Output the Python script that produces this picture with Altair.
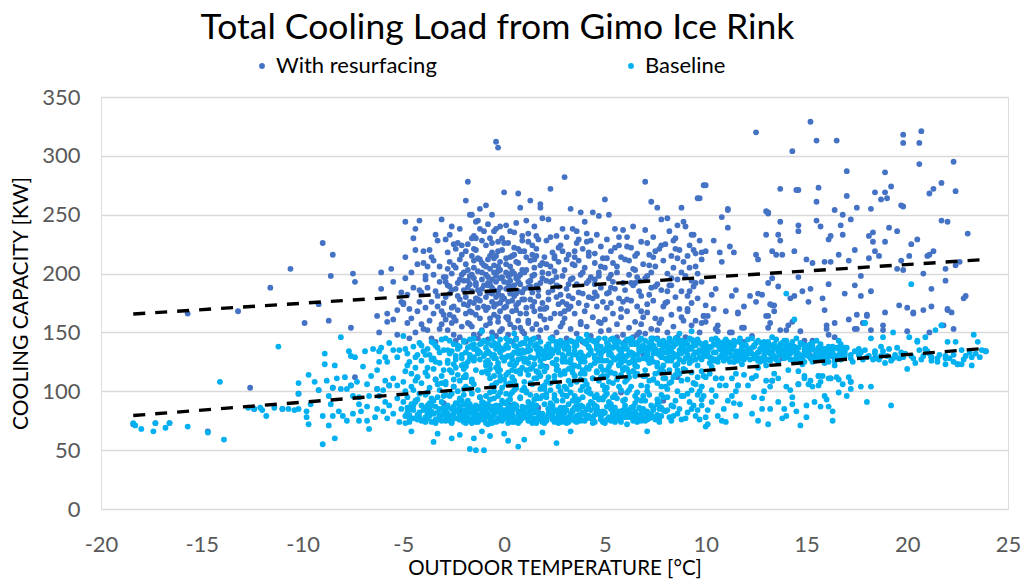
import altair as alt
import pandas as pd

series_names = ["With resurfacing", "Baseline"]
series_colors = ["#4472C4", "#00B0F0"]
x_ticks = [-20, -15, -10, -5, 0, 5, 10, 15, 20, 25]
y_ticks = [0, 50, 100, 150, 200, 250, 300, 350]

# hourly readings, "outdoor temperature:cooling load" per token
resurfacing_cold = """
-15.7:166 -13.2:168 -12.6:103 -11.6:188 -10.6:204 -9.9:158 -9.2:174 -9.0:226 -8.7:160 -8.6:198
-8.5:216 -7.6:154 -7.5:200 -7.4:193 -7.4:112 -6.3:164 -6.1:201 -6.1:187 -5.8:166 -5.8:159
-5.6:204 -5.5:193 -5.5:161 -5.3:169 -5.3:148 -5.0:175 -4.8:158 -6.2:150 -5.1:184
"""
resurfacing_low = """
-18.4:72 -17.3:73 -16.6:73 -14.7:66 -12.4:85 -11.0:85 -10.2:98 -9.2:101 -8.5:103 -7.6:105
-6.3:102 -5.7:105 -4.3:112 -3.4:110 -2.5:104 -1.6:108 -0.4:107 0.6:103 1.6:111 2.6:122
3.5:113 4.4:111 5.3:116 6.4:117 7.4:110 8.6:112 9.4:107 10.5:111 11.6:105 12.3:111
13.3:109 14.6:106 15.6:113 16.2:111 17.2:108 18.4:128 19.6:128 21.2:129 22.5:123 23.9:134
2.1:121 -1.2:95 0.3:88 3.1:96 5.8:99 7.9:92 -3.0:90 4.7:127 6.9:131 1.1:134
15.2:130 16.4:128 17.6:131 14.1:129 12.6:133 13.8:128 11.4:125
-2.2:84 -0.9:80 0.4:79 1.7:86 3.2:77 4.6:83
"""
resurfacing_mild = """
-4.9:244 -4.2:245 -4.4:238 -4.9:214 -4.4:220 -4.3:208 -4.5:188 -4.2:186 -4.1:184 -5.1:176
-5.0:174 -4.7:170 -4.3:168 -4.6:162 -4.9:196 -4.6:201 -4.8:182 -4.4:150 -4.7:145 -4.2:176
-4.5:230 -4.1:157
-4.0:219 -3.7:220 -3.5:211 -3.8:206 -4.0:209 -3.6:176 -4.0:153 -3.2:153 -3.0:165 -3.5:166
-3.1:157 -3.2:193 -3.1:246 -3.4:185 -3.9:195 -3.3:172 -3.7:160 -3.6:145 -3.8:188 -3.3:228
-3.5:199 -3.9:171 -3.2:206 -3.4:142 -3.0:197 -3.0:175
-3.8:152 -3.3:181 -3.6:214 -3.1:168 -3.9:198 -3.4:233
-2.9:229 -2.8:218 -2.9:197 -2.2:238 -2.6:240 -2.5:225 -2.7:210 -2.4:205 -2.2:212 -2.8:190
-2.6:186 -2.3:192 -2.1:199 -2.9:180 -2.5:172 -2.7:165 -2.4:160 -2.2:178 -2.8:152 -2.5:148
-2.1:155 -2.6:200 -2.3:169 -2.0:186 -2.4:143 -2.7:233 -2.1:224 -2.3:181 -2.6:158
-2.8:204 -2.4:187 -2.1:216 -2.6:171 -2.9:193 -2.3:226 -2.7:183 -2.0:201 -2.5:163 -2.2:195
-2.9:161 -2.5:207 -2.2:146 -2.7:189 -2.4:221 -2.0:174
-1.8:278 -1.7:250 -1.6:250 -1.3:245 -1.4:244 -1.2:238 -1.9:262 -1.5:232 -1.1:228 -1.8:225
-1.4:220 -1.6:215 -1.2:212 -1.9:208 -1.5:205 -1.3:202 -1.7:198 -1.1:195 -1.4:192 -1.8:188
-1.6:185 -1.2:183 -1.9:180 -1.3:178 -1.5:175 -1.0:172 -1.7:168 -1.4:165 -1.2:162 -1.8:158
-1.6:155 -1.1:152 -1.5:148 -1.3:145 -1.9:142 -1.0:207 -1.6:230 -1.2:255 -1.4:190 -1.7:176
-1.1:187 -1.5:196 -1.3:171 -1.8:203
-1.9:219 -1.6:199 -1.3:186 -1.8:173 -1.5:221 -1.1:209 -1.7:191 -1.4:230 -1.2:177 -2.0:194
-1.6:167 -1.3:213
-1.9:166 -1.5:211 -1.2:149 -1.8:194 -1.4:179 -1.0:236 -1.7:157 -1.1:201
-0.4:312 -0.3:307 -0.9:258 -0.6:250 -0.8:242 -0.2:240 -0.5:236 -0.7:230 -0.3:227 -0.9:224
-0.1:220 -0.6:218 -0.4:215 -0.8:212 -0.2:210 -0.5:207 -0.7:204 -0.3:202 -0.9:199 -0.1:197
-0.6:195 -0.4:193 -0.8:190 -0.2:188 -0.5:186 -0.7:184 -0.3:182 -0.9:180 -0.1:178 -0.6:176
-0.4:174 -0.8:171 -0.2:168 -0.5:165 -0.7:162 -0.3:159 -0.9:156 -0.1:153 -0.6:150 -0.4:147
-0.8:144 -0.2:196 -0.5:201 -0.7:191 -0.3:185 -0.4:198 -0.6:188 -0.2:175
-0.9:206 -0.6:183 -0.3:219 -0.8:197 -0.5:172 -0.1:230 -0.7:215 -0.4:180 -0.2:203 -1.0:190
-0.6:226 -0.3:163 -0.8:184
-0.9:169 -0.5:213 -0.2:151 -0.8:192 -0.4:238 -0.1:181 -0.7:158 -0.3:206
0.0:269 0.7:268 0.8:256 0.1:241 0.6:243 0.3:236 0.9:232 0.2:226 0.5:222 0.8:219
0.4:215 0.1:213 0.7:209 0.3:206 0.9:203 0.5:200 0.2:198 0.6:196 0.0:193 0.8:191
0.4:189 0.1:187 0.7:185 0.3:183 0.5:181 0.9:178 0.2:176 0.6:173 0.0:171 0.4:168
0.8:166 0.1:163 0.7:160 0.3:157 0.5:154 0.9:151 0.2:148 0.6:145 0.4:142 0.3:194
0.5:190 0.1:201 0.7:197 0.2:188 0.4:186 0.0:179 0.6:210
0.1:208 0.4:177 0.7:221 0.2:192 0.5:235 0.9:184 0.3:214 0.6:169 0.8:199 0.0:226
0.4:202 0.7:175 0.2:161
0.1:172 0.5:216 0.8:154 0.3:199 0.6:183 0.9:228 0.2:163 0.7:193
1.3:262 1.8:259 1.8:256 1.1:245 1.9:247 1.5:240 1.2:234 1.7:229 1.4:224 1.0:219
1.6:215 1.3:211 1.8:207 1.1:203 1.5:199 1.9:196 1.2:193 1.6:190 1.0:187 1.4:184
1.7:181 1.3:178 1.9:175 1.1:171 1.5:168 1.8:164 1.2:160 1.6:157 1.4:153 1.0:149
1.7:146 1.3:143 1.5:205 1.2:188 1.8:192 1.4:172
1.1:214 1.4:198 1.7:186 1.2:227 1.5:176 1.9:209 1.3:194 1.6:232 1.8:170 1.0:201 1.4:216
1.1:166 1.5:212 1.8:152 1.3:189 1.6:221 1.0:178 1.9:201 1.2:158
2.3:272 2.2:246 2.9:238 2.6:232 2.1:228 2.8:224 2.4:218 2.0:214 2.7:210 2.3:206
2.5:202 2.9:198 2.1:194 2.6:190 2.4:186 2.8:182 2.2:178 2.7:174 2.0:170 2.5:166
2.3:162 2.9:158 2.1:154 2.6:150 2.4:146 2.8:142 2.2:200 2.7:189
2.1:208 2.4:194 2.7:222 2.2:184 2.5:215 2.9:176 2.3:231 2.6:197 2.8:166
2.1:171 2.5:213 2.8:155 2.3:193 2.6:180 2.9:219 2.0:161
3.0:282 3.3:255 3.8:252 3.4:238 3.1:231 3.6:226 3.9:221 3.2:216 3.7:211 3.5:207
3.0:203 3.8:199 3.3:195 3.6:191 3.1:187 3.9:183 3.4:179 3.7:175 3.2:170 3.5:166
3.0:162 3.8:157 3.3:153 3.6:149 3.1:145 3.9:142 3.4:208 3.7:184
3.1:212 3.4:196 3.7:229 3.2:181 3.5:219 3.9:201 3.3:172
3.1:174 3.5:214 3.8:159 3.2:191 3.6:236 3.0:168
4.4:252 4.7:249 4.0:244 4.1:234 4.6:233 4.3:228 4.8:223 4.2:218 4.9:213 4.5:209
4.0:205 4.7:201 4.3:197 4.1:192 4.8:188 4.5:184 4.2:180 4.9:176 4.6:172 4.0:168
4.4:163 4.7:159 4.1:155 4.8:151 4.3:147 4.6:143 4.5:195
4.2:215 4.5:191 4.8:206 4.1:227 4.4:179 4.7:198
4.1:173 4.5:217 4.8:158 4.2:194 4.6:181
5.0:263 5.2:250 5.5:238 5.9:237 5.1:229 5.7:224 5.3:219 5.8:214 5.4:209 5.0:205
5.6:201 5.2:196 5.9:192 5.5:187 5.1:183 5.7:179 5.3:175 5.8:170 5.4:166 5.0:161
5.6:157 5.2:152 5.9:148 5.5:144 5.3:199
5.1:213 5.4:193 5.7:231 5.2:184 5.6:206 5.9:176
5.1:171 5.5:222 5.8:163 5.3:188 5.6:146
6.4:240 6.1:231 6.8:227 6.3:222 6.6:217 6.0:212 6.9:208 6.5:203 6.2:199 6.7:194
6.4:190 6.0:186 6.8:181 6.3:177 6.6:172 6.1:168 6.9:163 6.5:159 6.2:154 6.7:150
6.4:146 6.0:142 6.6:197
6.1:223 6.4:204 6.7:185 6.2:211 6.5:192 6.8:168
6.1:178 6.5:215 6.8:157 6.3:192 6.6:148
7.0:278 7.3:261 7.6:256 7.0:237 7.8:246 7.4:231 7.1:226 7.7:221 7.2:216 7.9:211
7.5:206 7.3:201 7.0:196 7.6:191 7.8:186 7.2:182 7.4:177 7.9:172 7.1:167 7.5:162
7.7:158 7.3:153 7.0:149 7.6:145
7.2:207 7.5:189 7.8:224 7.1:198 7.4:214
7.1:174 7.5:219 7.8:161 7.3:188 7.6:152
8.1:247 8.6:241 8.9:244 8.8:256 8.2:236 8.5:230 8.0:225 8.7:220 8.3:215 8.9:210
8.4:205 8.1:200 8.6:195 8.2:190 8.8:185 8.5:180 8.0:175 8.7:170 8.3:165 8.9:160
8.4:155 8.1:150 8.6:146 8.2:142
8.3:196 8.6:213 8.1:185 8.8:201 8.4:228
8.1:176 8.5:221 8.8:163 8.3:190
9.6:264 9.3:233 9.7:264 9.4:233 9.7:228 9.4:220 9.8:212 9.0:240 9.2:224 9.5:206
9.1:215 9.4:189 9.3:175 9.6:179 9.5:160 9.0:198 9.2:185 9.8:193 9.1:168 9.7:150
9.3:156 9.9:164 9.0:146 9.6:200 9.9:275
9.2:205 9.5:192 9.8:218 9.1:170
9.1:181 9.5:217 9.8:158 9.3:194
"""
resurfacing_warm = """
10.0:275 12.5:320 15.2:329 15.5:313 16.5:313 14.3:304 19.8:318 20.7:321 19.8:311 20.6:311
20.6:293 22.3:295 17.0:287 18.9:286 13.7:272 14.6:271 15.6:273 15.5:261 17.0:266 18.4:269
18.9:269 19.2:274 18.7:263 19.0:264 18.2:255 19.8:257 21.1:268 21.3:272 21.7:277 22.4:270
10.8:248 11.1:255 11.1:239 13.0:253 13.1:251 13.7:244 15.5:245 15.7:240 16.4:254 16.8:250
17.2:246 17.5:256 16.7:241 16.8:233 18.3:235 18.1:232 19.1:239 19.5:236 19.7:258 21.7:245
22.0:244 23.0:234 13.0:233 13.6:233 13.7:228 14.6:236 14.6:241 16.1:229 16.2:232 18.3:227
18.9:227 20.2:225 20.5:229 10.4:228 10.0:219 10.7:218 10.8:210 11.2:223 11.4:218 12.5:216
12.6:212 13.3:219 13.5:216 13.8:216 14.4:219 15.0:212 15.3:209 15.9:210 16.2:210 16.6:216
17.1:211 17.4:220 18.1:213 18.4:219 18.6:215 19.7:211 20.1:215 21.0:215 21.1:216 21.3:219
22.6:210 22.4:207 21.9:204 21.9:194 22.9:181 21.2:187 20.8:200 19.8:203 19.5:204 19.6:173
20.0:171 20.3:167 20.8:169 21.2:172 22.0:169 22.2:167 18.9:167 18.2:185 18.0:164 17.5:165
17.7:181 17.4:190 17.7:198 16.9:183 15.9:169 15.8:179 16.1:191 15.1:176 15.2:187 14.8:185
14.6:197 14.4:181 14.2:179 13.6:189 13.3:173 13.4:168 13.1:164 12.5:176 12.6:183 12.8:182
13.1:192 13.3:196 12.2:181 11.9:172 11.5:186 11.3:181 11.6:167 11.0:168 10.5:187 10.3:182
10.0:173 9.9:164 10.4:170 10.1:164 10.6:156 11.2:150 11.9:154 13.1:154 14.1:156 14.7:151
16.0:156 16.4:158 17.1:161 17.5:153 18.8:156 20.0:151 21.1:150 22.3:153 21.8:156 20.3:166
22.0:170 18.8:152 18.2:152 17.8:158 18.0:165 17.4:153 16.0:153 16.1:148 16.4:146 15.3:143
14.9:143 14.3:159 14.0:152 13.7:152 13.2:158 13.2:174 13.4:173 13.0:164 11.8:154 12.3:147
11.9:142 11.3:150 11.6:166 10.0:159 10.5:153 10.6:151 22.8:179 11.1:254 13.1:252 14.5:271
"""

baseline_cold = """
-18.4:73 -18.3:71 -18.0:68 -17.4:66 -17.3:73 -16.8:69 -16.6:73 -15.7:70 -14.7:65 -13.9:59
-14.1:108 -11.2:138 -12.7:86 -12.4:85 -12.1:86 -12.0:84 -11.8:79 -11.4:86 -11.0:85 -10.7:85
-10.4:84 -10.2:85 -10.2:107 -10.2:98 -9.7:114 -9.8:78 -9.7:72 -9.6:89 -9.8:83 -9.0:55
-8.4:60 -9.4:108 -9.2:101 -8.9:132 -8.9:123 -8.4:122 -8.8:109 -8.5:103 -8.1:146 -8.3:111
-7.9:112 -7.7:134 -7.6:130 -7.4:129 -8.7:96 -8.6:89 -9.0:79 -8.7:71 -8.5:79 -8.2:83
-8.0:79 -8.1:102 -7.8:102 -7.6:105 -7.5:96 -7.2:95 -7.0:121 -6.9:134 -6.8:106 -6.7:68
-6.8:75 -6.5:136 -6.2:134 -6.1:137 -5.9:129 -5.8:125 -6.2:125 -6.3:118 -5.9:109 -5.7:141
-5.5:135 -5.3:129 -5.2:135 -5.3:105 -5.5:111 -5.7:105 -6.0:101 -6.3:102 -6.2:96 -5.9:91
-5.7:88 -5.3:94 -5.1:85 -5.5:81 -5.8:77 -6.0:83 -6.3:85 -6.8:87 -7.1:83 -7.2:89
-6.7:96 -6.6:113 -7.3:108 -7.5:81 -7.8:75 -7.2:75 -6.4:78 -5.2:74
"""
baseline_mild = """
-4.9:117 -5.0:108 -4.9:79 -5.0:91 -5.0:147 -4.6:66 -4.8:132 -4.7:125 -4.5:138 -4.4:120
-4.3:112 -4.6:104 -4.2:98 -4.8:95 -4.1:88 -4.5:84 -4.7:80 -4.3:76 -4.9:100 -4.4:129
-4.2:141 -4.6:115 -4.1:107 -4.8:86 -4.3:93 -4.0:134 -4.5:101 -4.7:74 -4.2:82 -4.4:109
-4.1:126 -4.9:136 -4.6:89 -4.3:131 -4.8:122 -4.5:77 -4.1:139 -4.4:92
-3.8:136 -3.5:57 -3.3:64 -3.9:78 -3.7:84 -3.5:92 -3.2:101 -3.0:118 -3.6:127 -3.4:139
-3.1:144 -3.8:113 -3.3:106 -3.9:97 -3.6:88 -3.1:80 -3.4:76 -3.7:131 -3.2:124 -3.0:135
-3.5:141 -3.8:120 -3.3:95 -3.9:86 -3.6:74 -3.1:91 -3.4:110 -3.7:103 -3.2:77 -3.0:83
-3.5:128 -3.8:99 -3.3:137 -3.9:116 -3.6:142 -3.1:107 -3.4:87 -3.7:79 -3.2:133 -3.0:96
-3.5:119 -3.8:81 -3.4:125 -3.1:113 -3.6:94 -3.9:131 -3.3:82
-2.6:60 -2.2:63 -2.9:75 -2.7:78 -2.5:81 -2.3:84 -2.1:77 -2.8:86 -2.4:90 -2.2:94
-2.6:98 -2.0:102 -2.9:106 -2.5:110 -2.3:114 -2.7:118 -2.1:122 -2.8:126 -2.4:130 -2.6:134
-2.2:138 -2.0:142 -2.9:145 -2.5:140 -2.3:136 -2.7:132 -2.1:128 -2.8:124 -2.4:120 -2.6:116
-2.0:112 -2.9:108 -2.5:104 -2.3:100 -2.7:96 -2.1:92 -2.8:88 -2.4:83 -2.6:79 -2.2:76
-2.0:74 -2.9:82 -2.5:87 -2.3:139 -2.7:143 -2.1:131 -2.4:127 -2.8:135 -2.2:80 -2.6:85
-2.0:89 -2.5:123 -2.2:109 -2.9:97
-1.7:51 -1.4:50 -1.5:60 -1.1:66 -1.0:50 -1.1:151
-1.7:131 -1.3:78 -1.9:104 -1.1:142 -1.6:86 -2.0:119 -1.4:74 -1.8:137 -1.2:95 -1.5:126
-1.4:81 -1.9:112 -1.2:140 -1.7:89 -2.0:123 -1.1:76 -1.6:108 -1.3:134 -1.8:92 -1.5:145
-1.8:83 -1.1:116 -1.5:129 -2.0:79 -1.3:101 -1.7:138 -1.2:87 -1.9:121 -1.4:75 -1.6:110
-1.2:133 -1.6:98 -2.0:143 -1.4:84 -1.8:125 -1.3:77 -1.9:114 -1.5:136 -1.1:91 -1.7:128
-1.9:80 -1.5:106 -1.1:141 -1.8:88 -1.4:118 -1.6:73 -1.3:132 -2.0:97 -1.6:139 -1.2:85
-1.9:122 -1.0:82 -1.3:135 -1.7:102 -1.5:127
-0.7:62 -0.8:72
-0.4:128 -0.9:83 -0.2:109 -0.6:139 -1.0:76 -0.3:121 -0.7:93 -0.1:135 -0.5:80 -0.8:115
-0.2:144 -0.6:87 -0.9:125 -0.4:74 -0.1:103 -0.7:132 -0.3:96 -0.5:141 -0.8:79 -0.2:118
-0.6:130 -1.0:90 -0.4:107 -0.9:137 -0.1:84 -0.7:123 -0.3:77 -0.5:113 -0.8:134 -0.2:99
-0.6:146 -0.9:82 -0.4:120 -0.1:75 -0.7:111 -0.3:138 -0.5:94 -0.8:126 -0.2:81 -0.6:105
-1.0:143 -0.4:88 -0.9:117 -0.1:129 -0.7:78 -0.3:140 -0.5:100 -0.8:86 -0.2:133 -0.6:73
-0.9:122 -0.4:136 -0.1:92 -0.7:119 -0.3:85 -0.5:131
0.2:58 0.7:53 0.5:149 0.0:64
0.6:124 0.1:79 0.8:140 0.3:97 0.9:84 0.4:131 0.0:110 0.7:76 0.2:137 0.5:89
0.8:118 0.3:143 0.0:81 0.6:103 0.9:128 0.4:74 0.1:114 0.7:135 0.2:92 0.5:122
0.8:78 0.3:107 0.9:141 0.6:86 0.0:126 0.4:99 0.1:145 0.7:83 0.2:116 0.5:133
0.8:95 0.3:75 0.9:120 0.6:138 0.0:90 0.4:112 0.1:129 0.7:80 0.2:142 0.5:101
0.8:132 0.3:87 0.9:77 0.6:117 0.0:136 0.4:85 0.1:106 0.7:127 0.2:73 0.5:139
0.8:94 0.3:123
1.0:59 1.9:65
1.5:77 1.2:134 1.8:102 1.0:141 1.6:88 1.3:119 1.9:75 1.1:127 1.7:94 1.4:144
1.0:83 1.6:111 1.2:138 1.8:79 1.5:123 1.3:97 1.9:131 1.1:86 1.7:116 1.4:74
1.0:108 1.6:140 1.2:91 1.8:126 1.5:82 1.3:135 1.9:104 1.1:145 1.7:78 1.4:120
1.0:133 1.6:96 1.2:76 1.8:113 1.5:139 1.3:84 1.9:122 1.1:100 1.7:137 1.4:89
1.0:125 1.6:73 1.2:114 1.8:142 1.5:93 1.3:129 1.9:81 1.1:118 1.7:130 1.4:106
1.0:80 1.6:136 1.2:87 1.8:121 1.5:128
2.6:56
2.3:136 2.8:81 2.0:117 2.6:142 2.4:76 2.9:125 2.1:98 2.7:133 2.2:85 2.5:109
2.8:139 2.3:79 2.0:128 2.6:92 2.4:144 2.9:74 2.1:120 2.7:104 2.2:137 2.5:83
2.8:115 2.3:130 2.0:89 2.6:77 2.4:124 2.9:141 2.1:95 2.7:82 2.2:112 2.5:135
2.8:100 2.3:145 2.0:78 2.6:127 2.4:88 2.9:131 2.1:75 2.7:118 2.2:140 2.5:94
2.8:86 2.3:107 2.0:134 2.6:122 2.4:80 2.9:97 2.1:138 2.7:73 2.2:129 2.5:113
2.8:143 2.3:90 2.0:102 2.6:84 2.4:132
3.3:66
3.6:131 3.1:84 3.8:110 3.3:143 3.0:77 3.5:122 3.9:95 3.2:137 3.7:80 3.4:116
3.1:140 3.8:88 3.3:127 3.6:74 3.0:104 3.5:134 3.9:82 3.2:119 3.7:145 3.4:92
3.1:125 3.8:76 3.3:99 3.6:139 3.0:86 3.5:113 3.9:130 3.2:78 3.7:121 3.4:142
3.1:96 3.8:133 3.3:81 3.6:108 3.0:136 3.5:75 3.9:118 3.2:89 3.7:128 3.4:83
3.1:141 3.8:101 3.3:124 3.6:79 3.0:115 3.5:138 3.9:87 3.2:132 3.7:93 3.4:120
3.1:73 3.8:144 3.3:106 3.6:85 3.0:129
4.1:148
4.2:79 4.7:126 4.0:141 4.5:88 4.9:113 4.3:135 4.8:76 4.1:120 4.6:97 4.4:143
4.0:82 4.7:109 4.2:131 4.9:74 4.5:124 4.3:91 4.8:138 4.1:85 4.6:117 4.4:78
4.0:129 4.7:145 4.2:102 4.9:134 4.5:80 4.3:122 4.8:94 4.1:140 4.6:87 4.4:111
4.0:75 4.7:133 4.2:119 4.9:83 4.5:142 4.3:98 4.8:127 4.1:77 4.6:136 4.4:90
4.0:115 4.7:81 4.2:144 4.9:105 4.5:130 4.3:84 4.8:121 4.1:100 4.6:139 4.4:73
4.0:125 4.7:93 4.2:137 4.9:118 4.5:86
5.4:137 5.9:84 5.1:118 5.7:142 5.2:78 5.5:127 5.0:96 5.8:133 5.3:75 5.6:110
5.9:140 5.1:87 5.7:123 5.4:80 5.0:145 5.8:101 5.2:131 5.5:77 5.3:116 5.6:138
5.9:92 5.1:126 5.7:83 5.4:107 5.0:135 5.8:74 5.2:121 5.5:143 5.3:89 5.6:128
5.9:79 5.1:113 5.7:136 5.4:95 5.0:82 5.8:124 5.2:139 5.5:86 5.3:132 5.6:76
5.9:119 5.1:141 5.7:104 5.4:129 5.0:73 5.8:134 5.2:91 5.5:115 5.3:144 5.6:81
5.9:130 5.1:98 5.7:122 5.4:85 5.0:112
6.1:72
6.3:125 6.8:80 6.0:139 6.6:93 6.1:130 6.9:76 6.4:117 6.2:143 6.7:86 6.5:122
6.0:78 6.8:134 6.3:104 6.6:141 6.1:83 6.9:128 6.4:75 6.2:112 6.7:137 6.5:90
6.0:120 6.8:145 6.3:81 6.6:131 6.1:99 6.9:136 6.4:87 6.2:124 6.7:77 6.5:140
6.0:108 6.8:84 6.3:133 6.6:74 6.1:119 6.9:96 6.4:142 6.2:82 6.7:127 6.5:113
6.0:88 6.8:138 6.3:79 6.6:121 6.1:144 6.9:85 6.4:132 6.2:101 6.7:135 6.5:76
6.0:126 6.8:92 6.3:140 6.6:115 6.1:80
7.1:66
7.5:134 7.0:82 7.8:119 7.2:141 7.6:77 7.3:128 7.9:95 7.1:137 7.7:85 7.4:110
7.0:143 7.8:79 7.2:124 7.6:132 7.3:88 7.9:139 7.1:76 7.7:116 7.4:145 7.0:92
7.8:130 7.2:81 7.6:121 7.3:136 7.9:84 7.1:127 7.7:140 7.4:78 7.0:113 7.8:135
7.2:97 7.6:89 7.3:142 7.9:122 7.1:83 7.7:131 7.4:125 7.0:75 7.8:104 7.2:138
7.6:144 7.3:80 7.9:117 7.1:133 7.7:91 7.4:86 7.0:129 7.8:142 7.2:77 7.6:107
7.3:126 7.9:138 7.1:100 7.7:74 7.4:132
8.7:149
8.4:138 8.9:125 8.1:141 8.6:131 8.2:118 8.8:143 8.3:134 8.7:127 8.0:139 8.5:122
8.9:136 8.1:84 8.6:144 8.4:129 8.2:78 8.8:132 8.0:104 8.5:140 8.3:88 8.7:135
8.9:96 8.1:126 8.6:81 8.4:112 8.2:137 8.8:76 8.0:128 8.5:92 8.3:142 8.7:85
8.9:119 8.1:133 8.6:100 8.4:79 8.2:145 8.8:109 8.0:83 8.5:130 8.3:75 8.7:115
8.9:140 8.1:95 8.6:123 8.4:87 8.2:107
9.3:151
9.2:137 9.7:129 9.0:142 9.5:133 9.8:140 9.3:126 9.1:135 9.6:144 9.4:131 9.9:138
9.2:124 9.7:141 9.0:128 9.5:79 9.8:134 9.3:85 9.1:110 9.6:97 9.4:139 9.9:132
9.2:91 9.7:76 9.0:118 9.5:143 9.8:104 9.3:136 9.1:82 9.6:122 9.4:88 9.9:113
9.2:145 9.7:100 9.0:77 9.5:127 9.8:93 9.3:116 9.1:140 9.6:84 9.4:107 9.9:130
10.0:70
"""
# the thick bottom edge of the baseline cloud (ice plant idling)
baseline_floor = """
-4.9:73 -4.6:85 -4.2:78 -4.4:91 -4.8:82 -4.1:75 -4.5:88 -4.3:80 -4.7:77 -4.0:84
-3.9:74 -3.6:83 -3.2:79 -3.8:88 -3.4:73 -3.0:86 -3.7:90 -3.3:76 -3.5:81 -3.1:75 -3.8:77 -3.2:85
-2.9:79 -2.6:73 -2.2:87 -2.8:81 -2.4:77 -2.0:83 -2.7:75 -2.3:90 -2.5:78 -2.1:80 -2.9:86 -2.6:74
-2.2:76 -2.4:84
-1.9:77 -1.6:82 -1.3:74 -1.8:86 -1.5:79 -1.1:81 -1.7:75 -1.4:88 -1.2:78 -2.0:84 -1.6:76 -1.3:80
-1.9:73 -1.0:86 -1.5:83 -1.8:79
-0.9:78 -0.6:84 -0.3:75 -0.8:81 -0.5:87 -0.1:79 -0.7:74 -0.4:83 -0.2:88 -1.0:80 -0.6:77 -0.3:85
-0.9:73 -0.5:82 -0.1:76 -0.8:89
0.1:77 0.4:83 0.7:79 0.2:86 0.5:74 0.9:81 0.3:78 0.6:88 0.8:75 0.0:84 0.4:80 0.7:73
0.2:82 0.9:87 0.5:76 0.1:90
1.1:78 1.4:85 1.7:76 1.2:81 1.5:88 1.9:74 1.3:79 1.6:83 1.8:77 1.0:86 1.4:73 1.7:82
1.2:75 1.9:80 1.5:84
2.1:76 2.4:82 2.7:79 2.2:85 2.5:74 2.9:80 2.3:88 2.6:77 2.8:83 2.0:73 2.4:86 2.7:75 2.2:81 2.9:78
3.1:77 3.4:84 3.7:79 3.2:74 3.5:86 3.9:81 3.3:76 3.6:89 3.8:75 3.0:82 3.4:78 3.7:85
4.1:79 4.4:76 4.7:83 4.2:88 4.5:74 4.9:81 4.3:77 4.6:85 4.8:78 4.0:80
5.1:76 5.4:82 5.7:78 5.2:87 5.5:74 5.9:80 5.3:85 5.6:79 5.8:77
6.2:78 6.5:83 6.8:75 6.3:86 6.6:80 6.9:77 6.1:84 6.4:79 6.7:76
7.1:79 7.4:84 7.7:77 7.2:81 7.5:76 7.8:86 7.3:78 7.6:80
"""
# the middle of the baseline cloud
baseline_middle = """
-0.9:96 -0.5:104 -0.2:113 -0.7:99 -0.3:117
0.1:98 0.5:109 0.8:115 0.3:93 0.6:105 0.9:101 0.4:118
1.1:99 1.5:111 1.8:94 1.3:107 1.6:117 1.0:103 1.9:96
2.1:108 2.5:97 2.8:114 2.3:101 2.6:118 2.9:92 2.0:105
3.1:102 3.5:96 3.8:115 3.2:109 3.6:93 3.9:104 3.0:117
4.1:106 4.5:95 4.8:112 4.2:99 4.6:116 4.9:93 4.0:109
5.1:103 5.5:97 5.8:114 5.2:108 5.6:94 5.9:118 5.0:101
6.1:110 6.5:96 6.8:105 6.2:116 6.6:99 6.9:113 6.0:93
7.1:104 7.5:115 7.8:97 7.2:109 7.6:93 7.9:111 7.0:118
8.1:102 8.5:114 8.8:96 8.3:108 8.6:118 8.0:111
9.1:98 9.5:106 9.8:117 9.3:101 9.6:112
"""
# the upper edge of the baseline cloud
baseline_ceiling = """
-1.9:133 -1.5:140 -1.2:127 -1.7:144 -1.4:136 -1.0:130
-0.8:141 -0.5:128 -0.2:137 -0.9:132 -0.6:145 -0.3:124
0.2:130 0.6:144 0.9:135 0.4:127 0.1:139 0.7:132
1.3:141 1.7:133 1.0:128 1.5:145 1.8:136 1.2:124
2.2:134 2.6:139 2.9:127 2.4:143 2.1:131 2.7:137
3.2:135 3.6:142 3.9:128 3.4:131 3.1:139 3.8:125
4.3:133 4.6:140 4.9:126 4.2:138 4.8:131 4.1:143 4.5:128
5.2:134 5.5:141 5.8:127 5.1:137 5.7:130 5.4:145 5.9:136 5.3:124
6.1:136 6.4:129 6.7:143 6.2:132 6.9:139 6.5:126 6.8:134 6.3:145
7.1:131 7.4:139 7.7:134 7.2:127 7.9:143 7.5:136 7.8:129 7.3:145 7.6:124
8.1:136 8.4:132 8.7:141 8.2:129 8.9:134 8.5:145 8.0:133 8.8:138 8.3:126
9.1:131 9.4:142 9.7:135 9.2:128 9.9:137 9.5:139 9.0:134 9.8:127 9.6:133 9.3:144
"""
baseline_warm = """
13.1:72 14.7:71 16.3:75 19.2:88 18.0:91 18.2:104 17.7:104 17.0:96 17.2:102 16.6:99
16.6:110 16.3:83 16.1:87 15.9:96 16.0:93 16.2:111 15.7:108 15.6:105 15.3:104 15.1:106
14.9:111 14.6:106 14.2:101 14.3:95 15.0:88 14.5:83 14.3:89 14.0:79 13.8:77 15.0:78
13.6:111 13.3:109 13.0:109 13.2:104 12.9:100 12.8:94 12.8:85 12.6:75 12.3:81 12.4:95
12.1:105 12.3:111 11.9:114 11.6:105 11.5:100 11.4:90 11.7:89 11.5:79 11.0:74 10.8:75
10.6:79 10.9:85 11.1:92 11.3:96 11.0:105 10.8:111 10.7:105 10.3:101 10.5:96 10.3:91
10.1:84 10.0:78 10.1:72 9.8:88 9.9:96 9.8:104 10.0:112 10.2:115 10.5:111 11.3:111
11.5:115 12.5:113 13.4:115 14.0:104 13.6:91 13.2:85 13.9:85 15.4:91 15.7:87 15.2:109
14.9:113 14.1:118 14.6:117 15.6:113 15.8:113 16.1:111 17.1:112 17.2:108 16.8:106 16.5:112
10.2:137 10.7:129 10.0:141 10.5:133 10.9:126 10.3:144 10.8:135 10.1:131 10.6:139 10.4:127
10.9:142 10.2:124 10.7:136 10.0:130 10.5:145 10.3:128 10.8:138 10.1:134 10.6:125 10.4:140
10.9:132 10.3:121
10.1:138 10.4:133 10.7:141 10.2:129 10.9:136 10.5:127 10.8:131 10.0:135 10.6:143 10.3:138
10.9:130 10.4:126
11.3:136 11.8:128 11.1:142 11.6:131 11.0:138 11.4:125 11.9:140 11.2:133 11.7:145 11.5:127
11.0:132 11.8:137 11.3:141 11.6:126 11.1:135 11.9:130 11.4:143 11.7:129 11.2:139 11.5:134
11.8:123 11.0:144
11.2:137 11.5:131 11.8:140 11.1:128 11.7:134 11.4:139 11.9:127 11.0:136 11.6:142 11.3:130
11.8:133 11.2:125
12.4:138 12.9:130 12.1:135 12.6:143 12.2:127 12.8:140 12.3:132 12.7:136 12.0:129 12.5:141
12.9:126 12.1:144 12.6:133 12.4:128 12.8:137 12.0:139 12.5:131 12.3:145 12.7:125 12.2:134
12.9:142 12.6:120
12.1:132 12.4:139 12.7:128 12.2:136 12.9:133 12.5:129 12.8:141 12.0:134 12.6:126 12.3:137
12.9:138 12.4:131
13.2:139 13.7:131 13.0:136 13.5:144 13.9:128 13.3:134 13.8:141 13.1:127 13.6:137 13.4:130
13.9:143 13.2:126 13.7:138 13.0:133 13.5:129 13.8:135 13.1:142 13.6:125 13.4:140 13.3:146
13.9:132 13.0:122
13.1:135 13.4:128 13.7:140 13.2:132 13.9:136 13.5:127 13.8:131 13.0:139 13.6:134 13.3:130
13.9:141 13.4:137
14.3:134 14.8:140 14.1:129 14.6:137 14.0:143 14.4:127 14.9:133 14.2:139 14.7:126 14.5:131
14.0:136 14.8:130 14.3:142 14.6:128 14.1:138 14.9:125 14.4:135 14.7:141 14.2:132 14.5:145
14.8:123 14.0:129
14.1:133 14.4:138 14.7:130 14.2:127 14.9:136 14.5:134 14.8:128 14.0:140 14.6:132 14.3:137
14.9:131 14.2:135
15.2:135 15.7:129 15.0:139 15.5:132 15.9:127 15.3:141 15.8:134 15.1:130 15.6:137 15.4:126
15.9:136 15.2:128 15.7:140 15.0:133 15.5:143 15.3:125 15.8:131 15.1:138 15.6:129 15.4:135
15.9:124
15.1:134 15.4:130 15.7:137 15.2:140 15.9:132 15.5:128 15.8:136 15.0:131 15.6:133 15.3:138
15.9:129
16.1:133 16.6:128 16.3:138 16.8:131 16.0:136 16.5:127 16.9:134 16.2:130 16.7:140 16.4:126
16.0:129 16.8:136 16.3:132 16.6:143 16.1:125 16.9:130 16.5:137 16.2:135 16.7:127 16.4:122
16.2:132 16.5:129 16.8:135 16.1:138 16.4:130 16.7:133 16.0:127 16.9:137 16.3:134 16.6:131
17.9:158 19.3:150 20.1:146 20.5:143 20.9:146 21.4:152 21.7:156 22.0:142 22.4:142 23.3:148
23.5:142 23.7:135 22.7:135 23.2:129 23.2:122 22.7:123 22.5:123 22.3:125 21.9:123 21.9:130
21.5:128 21.2:129 21.0:134 20.6:135 20.3:128 20.0:119 19.8:129 19.6:128 19.2:126 19.0:130
18.7:130 18.4:134 18.1:130 18.7:138 19.1:136 18.8:146 18.2:145 17.4:134 16.9:132 16.6:136
20.5:142 17.2:128 17.6:131 17.8:127 18.5:128 19.4:131 20.8:130 21.2:126 22.1:128 22.9:130
23.4:132 23.9:134 17.3:125 18.9:124 17.0:137 17.7:133 18.3:127 19.9:132 20.4:124 21.6:131
17.2:131 17.6:136 18.0:129 18.4:132 18.8:134 19.3:128 19.7:133 20.2:130 20.7:127 21.1:132
21.5:125 21.9:128 22.3:131 22.8:127 23.1:133 23.6:129 17.9:135 18.6:127 19.5:137 20.9:136
14.0:183 20.2:191 14.4:161 17.9:158 21.7:156
"""


def readings(text, name):
    rows = []
    for token in text.split():
        temp, load = token.split(":")
        rows.append({"series": name, "temp": float(temp), "load": float(load)})
    return rows


resurf_rows = []
for block in (resurfacing_low, resurfacing_cold, resurfacing_mild, resurfacing_warm):
    resurf_rows += readings(block, series_names[0])
base_rows = []
for block in (baseline_cold, baseline_mild, baseline_floor, baseline_middle,
              baseline_ceiling, baseline_warm):
    base_rows += readings(block, series_names[1])

# resurfacing hours first so the baseline cloud is painted over them
df = pd.DataFrame(resurf_rows + base_rows)

FONT = "Lato"
LABEL_GREY = "#595959"
# plain hyphen for negative tick labels
HYPHEN_LABEL = "(datum.value < 0 ? '-' : '') + abs(datum.value)"

x_enc = alt.X(
    "temp:Q",
    scale=alt.Scale(domain=[-20, 25], nice=False, zero=False),
    axis=alt.Axis(
        values=x_ticks, title="OUTDOOR TEMPERATURE [°C]", grid=False, domain=False,
        ticks=False, tickSize=0, labelFont=FONT, labelFontSize=22, labelColor=LABEL_GREY,
        labelPadding=25, labelFlush=False, labelExpr=HYPHEN_LABEL, titleFont=FONT,
        titleFontSize=20.5, titleFontWeight="normal", titleColor="#000000", titlePadding=3,
    ),
)
y_enc = alt.Y(
    "load:Q",
    scale=alt.Scale(domain=[0, 350], nice=False, zero=True),
    axis=alt.Axis(
        values=y_ticks, title="COOLING CAPACITY [KW]", grid=True, gridColor="#d9d9d9",
        gridWidth=1.3, domain=False, ticks=False, tickSize=0, labelFont=FONT,
        labelFontSize=22, labelColor=LABEL_GREY, labelPadding=21, titleFont=FONT,
        titleFontSize=21, titleFontWeight="normal", titleColor="#000000", titlePadding=10,
    ),
)

points = alt.Chart(df).mark_circle(size=34, opacity=1).encode(
    x=x_enc,
    y=y_enc,
    color=alt.Color(
        "series:N",
        scale=alt.Scale(domain=series_names, range=series_colors),
        legend=alt.Legend(
            title=None, orient="none", legendX=150, legendY=-42, direction="horizontal",
            labelFont=FONT, labelFontSize=22, labelColor="#000000", labelLimit=400,
            symbolSize=34, symbolType="circle", symbolStrokeWidth=0, columnPadding=183,
            labelOffset=3,
        ),
    ),
)

trend = (
    alt.Chart(df)
    .transform_regression("temp", "load", groupby=["series"])
    .mark_line(color="#000000", strokeDash=[12, 10], strokeWidth=3.4)
    .encode(x="temp:Q", y="load:Q", detail="series:N")
)

chart = (
    alt.layer(points, trend)
    .properties(
        width=907,
        height=412,
        autosize=alt.AutoSizeParams(type="none"),
        padding={"left": 101, "top": 97, "right": 17, "bottom": 76},
        title=alt.TitleParams(
            "Total Cooling Load from Gimo Ice Rink", font=FONT, fontSize=35.5,
            fontWeight="normal", color="#000000", anchor="middle", dx=-57, offset=9,
        ),
    )
    .configure_view(stroke=None)
    .configure(background="#ffffff")
)

chart.save("out.html", embed_options={"renderer": "svg", "actions": False})
